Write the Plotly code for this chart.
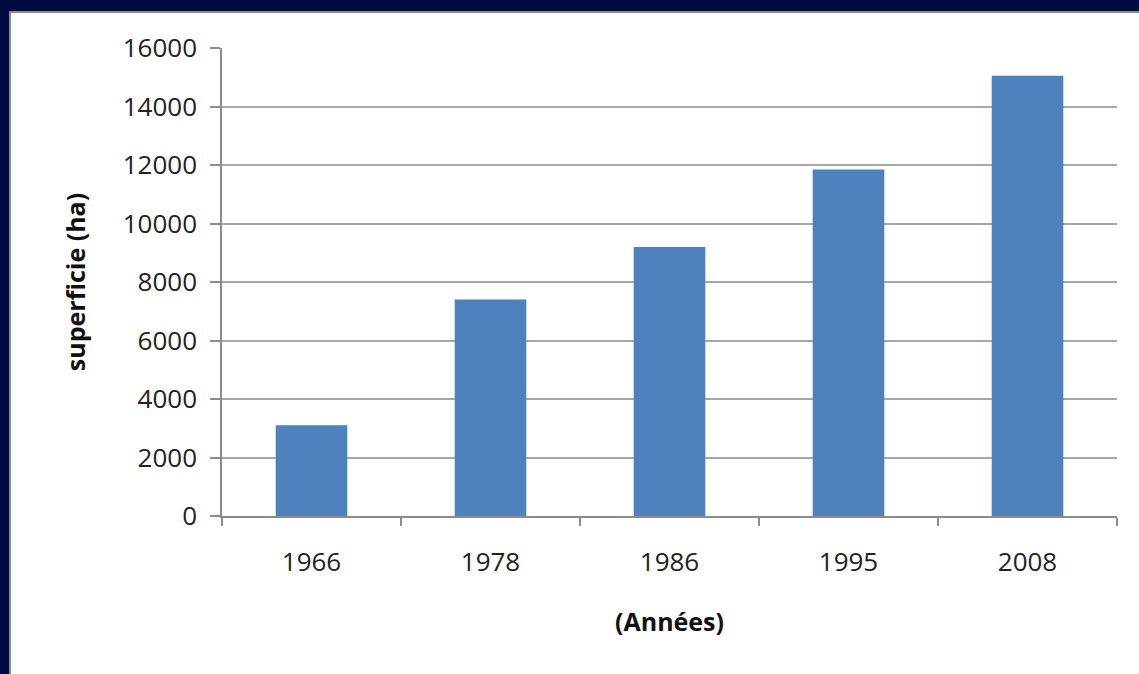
import plotly.graph_objects as go

years = ["1966", "1978", "1986", "1995", "2008"]
superficie = [3100, 7400, 9200, 11850, 15050]
y_ticks = [0, 2000, 4000, 6000, 8000, 10000, 12000, 14000, 16000]

W, H = 1139, 674
L, R, T, B = 222, 22, 48, 158
pw, ph = W - L - R, H - T - B

def px(x):
    return (x - L) / pw

def py(y):
    return (H - B - y) / ph

FONT = "Open Sans"
GRID = "#a6a6a6"

fig = go.Figure(go.Bar(x=years, y=superficie, marker=dict(color="#4f81bd", line=dict(width=0)), width=0.4))

fig.update_layout(
    width=W, height=H,
    margin=dict(l=L, r=R, t=T, b=B, pad=0),
    paper_bgcolor="#000b3f",
    plot_bgcolor="white",
    showlegend=False,
    font=dict(family=FONT, color="#222222"),
    shapes=[
        dict(type="rect", xref="paper", yref="paper", x0=px(10), x1=px(W + 5), y0=py(H + 5), y1=py(12),
             fillcolor="white", line=dict(color="#8a8a8a", width=2), layer="below"),
    ],
    xaxis=dict(
        type="category",
        showline=True, linecolor="#8c8c8c", linewidth=1.5,
        ticks="outside", tickson="boundaries", ticklen=8, tickcolor="#8c8c8c", tickwidth=1.5,
        tickfont=dict(family=FONT, size=26, color="#222222"),
        ticklabelstandoff=22,
        showgrid=False,
        title=dict(text="<b>(Années)</b>", font=dict(family=FONT, size=25, color="#111111"), standoff=36),
    ),
    yaxis=dict(
        range=[0, 16000],
        tickvals=y_ticks,
        ticktext=[str(v) for v in y_ticks],
        showline=True, linecolor="#8c8c8c", linewidth=1.5,
        ticks="outside", ticklen=10, tickcolor="#8c8c8c", tickwidth=1.5,
        showgrid=True, gridcolor=GRID, gridwidth=1.5,
        zeroline=False,
        tickfont=dict(family=FONT, size=26, color="#222222"),
        ticklabelstandoff=8,
        title=dict(text="<b>superficie (ha)</b>", font=dict(family=FONT, size=25, color="#111111"), standoff=30),
    ),
)

fig.write_html("out.html")
